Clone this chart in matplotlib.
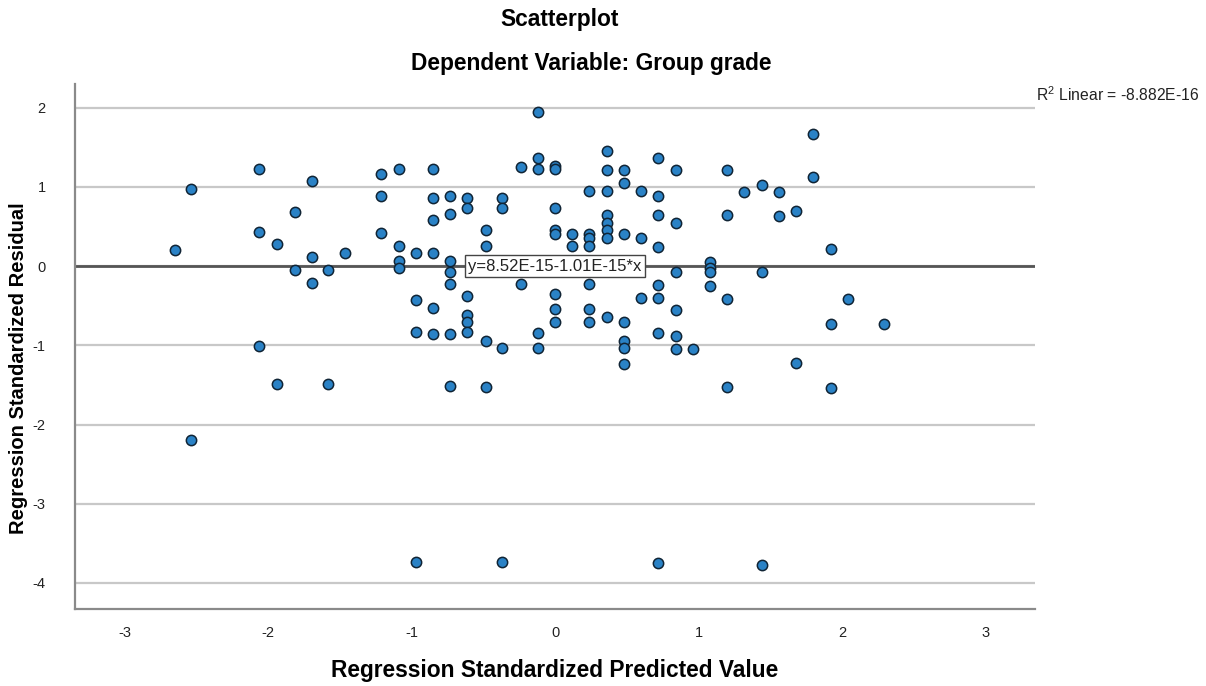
import matplotlib
matplotlib.use("Agg")
import matplotlib.pyplot as plt
import numpy as np

plt.rcParams['font.family'] = ['Liberation Sans', 'DejaVu Sans']
plt.rcParams['axes.unicode_minus'] = False
plt.rcParams['mathtext.fontset'] = 'custom'
plt.rcParams['mathtext.rm'] = 'Liberation Sans'

# Standardized predicted values (x) and standardized residuals (y), grouped by predicted value
pred_levels = [-2.65, -2.54, -2.06, -1.94, -1.81, -1.69, -1.58, -1.46, -1.21, -1.09,
               -0.97, -0.85, -0.73, -0.61, -0.48, -0.37, -0.24, -0.12, 0.00, 0.12,
               0.24, 0.36, 0.48, 0.60, 0.72, 0.84, 0.96, 1.08, 1.20, 1.32,
               1.44, 1.56, 1.68, 1.80, 1.92, 2.04, 2.29]
residuals = [
    [0.20],
    [0.98, -2.20],
    [1.23, 0.43, -1.01],
    [0.28, -1.49],
    [0.68, -0.05],
    [1.07, 0.12, -0.21],
    [-0.05, -1.49],
    [0.17],
    [1.16, 0.89, 0.42],
    [1.22, 0.26, 0.07, -0.03],
    [0.17, -0.43, -0.83, -3.73],
    [1.22, 0.86, 0.58, 0.17, -0.53, -0.86],
    [0.89, 0.66, 0.07, -0.07, -0.22, -0.86, -1.51],
    [0.86, 0.73, -0.38, -0.62, -0.70, -0.83],
    [0.46, 0.26, -0.94, -1.53],
    [0.86, 0.73, -1.04, -3.74],
    [1.25, -0.22],
    [1.95, 1.36, 1.22, -0.84, -1.04],
    [1.27, 1.22, 0.73, 0.45, 0.41, -0.35, -0.54, -0.71],
    [0.41, 0.25],
    [0.95, 0.41, 0.35, 0.25, -0.23, -0.54, -0.71],
    [1.45, 1.21, 0.95, 0.65, 0.55, 0.46, 0.35, -0.64],
    [1.21, 1.05, 0.41, -0.71, -0.94, -1.04, -1.24],
    [0.95, 0.35, -0.40],
    [1.36, 0.88, 0.65, 0.24, -0.24, -0.40, -0.85, -3.75],
    [1.21, 0.55, -0.08, -0.56, -0.88, -1.05],
    [-1.05],
    [0.05, -0.03, -0.08, -0.25],
    [1.21, 0.64, -0.41, -1.53],
    [0.94],
    [1.03, -0.08, -3.77],
    [0.94, 0.63],
    [0.70, -1.22],
    [1.67, 1.12],
    [0.22, -0.73, -1.54],
    [-0.42],
    [-0.73],
]

# Linear fit reported for the residual plot
fit_intercept = 8.52e-15
fit_slope = -1.01e-15
fit_label = "y=8.52E-15-1.01E-15*x"
r2_label = r"R$^{2}$ Linear = -8.882E-16"

x_ticks = [-3, -2, -1, 0, 1, 2, 3]
y_ticks = [-4, -3, -2, -1, 0, 1, 2]

xs = np.concatenate([[lvl] * len(r) for lvl, r in zip(pred_levels, residuals)])
ys = np.concatenate([np.asarray(r, dtype=float) for r in residuals])

fig = plt.figure(figsize=(12.06, 6.86), dpi=100)
ax = fig.add_axes([0.0622, 0.1122, 0.796, 0.7654])

xlim = (-3.345, 3.345)
ylim = (-4.33, 2.30)
ax.set_xlim(*xlim)
ax.set_ylim(*ylim)

# horizontal grid
for yt in y_ticks:
    ax.axhline(yt, color='#c8c8c8', lw=1.6, zorder=1)

# fit line
fx = np.array(xlim)
ax.plot(fx, fit_intercept + fit_slope * fx, color='#555555', lw=2.0, zorder=2)

ax.scatter(xs, ys, s=55, facecolor='#2a82c6', edgecolor='#102435',
           linewidths=1.1, zorder=3)

ax.text(0.0, 0.0, fit_label, ha='center', va='center', fontsize=12,
        color='#222222', zorder=4,
        bbox=dict(boxstyle='square,pad=0.22', facecolor='white',
                  edgecolor='#444444', linewidth=1.0))

ax.set_xticks(x_ticks)
ax.set_yticks(y_ticks)
ax.tick_params(axis='both', length=0, labelsize=10.5, labelcolor='#222222')
ax.tick_params(axis='y', pad=21)
ax.tick_params(axis='x', pad=12)

for side in ['top', 'right']:
    ax.spines[side].set_visible(False)
for side in ['left', 'bottom']:
    ax.spines[side].set_color('#8a8a8a')
    ax.spines[side].set_linewidth(1.6)

ax.set_xlabel("Regression Standardized Predicted Value", fontsize=16.4,
              fontweight='bold', labelpad=14)
ax.set_ylabel("Regression Standardized Residual", fontsize=14.5,
              fontweight='bold')
ax.yaxis.set_label_coords(-0.049, 0.459)

fig.text(0.464, 0.971, "Scatterplot", ha='center', va='center',
         fontsize=16.4, fontweight='bold')
fig.text(0.490, 0.908, "Dependent Variable: Group grade", ha='center',
         va='center', fontsize=16.4, fontweight='bold')
fig.text(0.859, 0.862, r2_label, ha='left', va='center', fontsize=11.3,
         color='#222222')

fig.savefig("out.png", dpi=100)
